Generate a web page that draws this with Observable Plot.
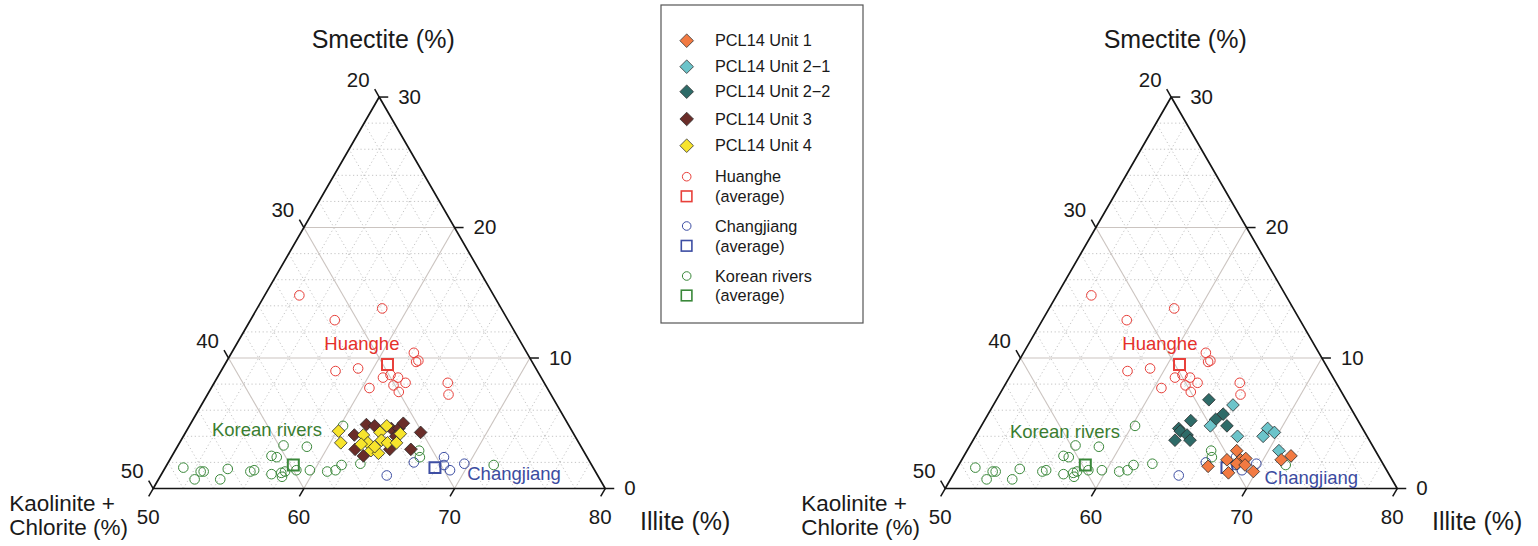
<!DOCTYPE html>
<html><head><meta charset="utf-8">
<script src="https://cdn.jsdelivr.net/npm/d3@7"></script>
<script src="https://cdn.jsdelivr.net/npm/@observablehq/plot@0.6"></script>
<style>
html,body{margin:0;padding:0;background:#fff;}
#wrap{position:relative;width:1538px;height:546px;overflow:hidden;font-family:"Liberation Sans",Arial,sans-serif;}
#left,#right{position:absolute;top:0;}
#left{left:0;} #right{left:792px;}
#legend{position:absolute;left:660px;top:4px;}
</style></head><body>
<div id="wrap"><div id="left"></div><div id="right"></div><svg id="legend" width="206" height="322"></svg></div>
<script>
// ---------- axis ticks (ternary, %) ----------
const smectiteTicks = [0, 10, 20, 30];
const illiteTicks = [50, 60, 70, 80];
const kcTicks = [20, 30, 40, 50];

// ---------- data: smectite (%) and illite (%); kaolinite+chlorite = 100 - S - I ----------
const huangheS = [14.8, 13.8, 12.9, 10.4, 9.7, 9.8, 9.0, 9.2, 8.5, 8.7, 8.5, 8.1, 7.9, 7.7, 7.4, 8.1, 7.2];
const huangheI = [52.3, 58.3, 55.6, 62.1, 62.6, 62.7, 57.6, 59.0, 61.0, 61.4, 62.0, 62.7, 62.0, 60.5, 62.6, 65.5, 66.0];
const huangheAvg = {S: 9.5, I: 60.8};

const changjiangS = [1.0, 2.0, 2.4, 1.8, 1.4, 1.9];
const changjiangI = [65.0, 66.3, 68.1, 68.4, 69.0, 69.7];
const changjiangAvg = {S: 1.6, I: 67.9};

const koreanS = [1.6, 0.7, 1.3, 1.3, 0.7, 1.5, 1.3, 1.4, 2.5, 2.4, 3.3, 1.1, 1.2, 0.9, 1.3, 1.4, 3.2, 1.4, 1.3, 1.4, 1.8, 4.8, 1.9, 2.9, 2.4, 1.8];
const koreanI = [51.2, 52.4, 52.5, 52.7, 54.1, 54.2, 55.8, 56.0, 56.6, 57.0, 57.0, 57.3, 57.9, 58.1, 58.1, 58.8, 58.6, 59.7, 60.9, 61.4, 61.6, 60.2, 62.8, 66.2, 66.5, 71.7];
const koreanAvg = {S: 1.8, I: 58.4};

const unit1S = [2.9, 2.2, 2.3, 1.9, 2.2, 1.2, 1.7, 1.3, 2.2, 2.5, 1.8];
const unit1I = [67.9, 68.5, 68.8, 68.4, 67.6, 68.2, 66.6, 69.8, 71.2, 71.7, 69.0];
const unit21S = [6.4, 4.8, 4.0, 4.6, 4.3, 4.0, 2.9];
const unit21I = [65.9, 65.2, 67.4, 69.1, 69.7, 69.1, 70.7];
const unit22S = [6.8, 5.2, 5.7, 5.3, 4.8, 4.6, 4.4, 4.1, 3.7, 3.7];
const unit22I = [64.1, 63.7, 65.6, 65.3, 66.3, 63.2, 63.4, 64.0, 63.4, 64.4];
const unit3S = [4.9, 4.8, 4.6, 4.6, 5.0, 4.1, 4.3, 3.0, 2.5, 3.0, 3.0, 4.0];
const unit3I = [61.7, 62.3, 63.5, 64.0, 64.1, 61.3, 65.6, 61.9, 62.7, 64.2, 65.6, 64.1];
const unit4S = [4.4, 3.5, 4.1, 4.3, 4.8, 4.2, 3.5, 3.4, 3.7, 3.5, 3.5, 2.9, 2.7, 3.2];
const unit4I = [60.1, 60.7, 61.9, 62.9, 63.1, 64.3, 62.5, 62.1, 63.3, 63.8, 64.4, 63.0, 63.6, 63.1];

// ---------- legend / colours ----------
const unitNames = ["PCL14 Unit 1", "PCL14 Unit 2\u22121", "PCL14 Unit 2\u22122", "PCL14 Unit 3", "PCL14 Unit 4"];
const unitColors = ["#F27A42", "#6CC4CA", "#2E6B68", "#6A2D29", "#F7E42C"];
const riverNames = ["Huanghe", "Changjiang", "Korean rivers"];
const riverColors = ["#E8403A", "#3D4EA3", "#3A883A"];
const riverTextColors = ["#E5302A", "#3B4BA0", "#3A7D30"];

// river label positions (S, I) per panel
const leftRiverLabelS = [11.1, 1.1, 4.5];
const leftRiverLabelI = [58.3, 73.4, 55.3];
const rightRiverLabelS = [11.1, 0.8, 4.3];
const rightRiverLabelI = [58.7, 73.9, 55.8];

// ---------- ternary projection ----------
const SQ = Math.sqrt(3) / 2;
const T = (s, i) => ({x: i - 50 + s / 2, y: s * SQ});
const pts = (S, I) => S.map((s, k) => T(s, I[k]));

const W = 746, H = 546;
const PXU = 15.067, X0 = 152.7, YB = 488;
const xDomain = [-X0 / PXU, (W - X0) / PXU];
const yDomain = [-(H - YB) / PXU, YB / PXU];

function seg(a, b) { return {x1: a.x, y1: a.y, x2: b.x, y2: b.y}; }
const segS = s => seg(T(s, 50), T(s, 80 - s));
const segI = i => seg(T(0, i), T(80 - i, i));
const segK = k => seg(T(0, 100 - k), T(50 - k, 50));

const minorOff = d3.range(2, 30, 2).filter(v => v % 10 !== 0);
const minor = [...minorOff.map(v => segS(v)), ...minorOff.map(v => segI(50 + v)), ...minorOff.map(v => segK(20 + v))];
const major = [segS(10), segS(20), segI(60), segI(70), segK(30), segK(40)];
const outline = [T(0, 50), T(0, 80), T(30, 50), T(0, 50)];

const TL = 0.6;
const ticks = [
  ...smectiteTicks.map(s => { const p = T(s, 80 - s); return {x1: p.x, y1: p.y, x2: p.x + TL, y2: p.y}; }),
  ...illiteTicks.map(i => { const p = T(0, i); return {x1: p.x, y1: p.y, x2: p.x - TL * 0.5, y2: p.y - TL * SQ}; }),
  ...kcTicks.map(k => { const p = T(50 - k, 50); return {x1: p.x, y1: p.y, x2: p.x - TL * 0.5, y2: p.y + TL * SQ}; })
];
const sLab = smectiteTicks.map(s => ({...T(s, 80 - s), t: String(s)}));
const iLab = illiteTicks.map(i => ({...T(0, i), t: String(i)}));
const kLab = kcTicks.map(k => ({...T(50 - k, 50), t: String(k)}));

const rivers = [
  {S: huangheS, I: huangheI, avg: huangheAvg},
  {S: changjiangS, I: changjiangI, avg: changjiangAvg},
  {S: koreanS, I: koreanI, avg: koreanAvg}
];

function panel(units, labS, labI) {
  const marks = [
    Plot.link(minor, {x1: "x1", y1: "y1", x2: "x2", y2: "y2", stroke: "#bdbdbd", strokeWidth: 0.9, strokeDasharray: "1.2,2.6"}),
    Plot.link(major, {x1: "x1", y1: "y1", x2: "x2", y2: "y2", stroke: "#cbc4c0", strokeWidth: 1.1}),
    Plot.line(outline, {x: "x", y: "y", stroke: "#151515", strokeWidth: 1.7}),
    Plot.link(ticks, {x1: "x1", y1: "y1", x2: "x2", y2: "y2", stroke: "#151515", strokeWidth: 1.5}),
    Plot.text(sLab, {x: "x", y: "y", text: "t", textAnchor: "start", dx: 19, dy: 0, fontSize: 20.5, fill: "#1a1a1a"}),
    Plot.text(iLab, {x: "x", y: "y", text: "t", dx: -5, dy: 29, fontSize: 20.5, fill: "#1a1a1a"}),
    Plot.text(kLab, {x: "x", y: "y", text: "t", dx: -21, dy: -17, fontSize: 20.5, fill: "#1a1a1a"}),
    Plot.text([T(30, 50)], {x: "x", y: "y", text: () => "Smectite (%)", dx: 4, dy: -57, fontSize: 25, fill: "#1a1a1a"}),
    Plot.text([T(0, 80)], {x: "x", y: "y", text: () => "Illite (%)", dx: 80, dy: 33, fontSize: 25, fill: "#1a1a1a"}),
    Plot.text([T(0, 50)], {x: "x", y: "y", text: () => "Kaolinite +\nChlorite (%)", textAnchor: "start", dx: -144, dy: 27, lineHeight: 1.08, fontSize: 22.5, fill: "#1a1a1a"})
  ];
  rivers.forEach((r, k) => {
    marks.push(Plot.dot(pts(r.S, r.I), {x: "x", y: "y", r: 4.8, stroke: riverColors[k], strokeWidth: 1, fill: "none"}));
  });
  rivers.forEach((r, k) => {
    marks.push(Plot.dot([T(r.avg.S, r.avg.I)], {x: "x", y: "y", symbol: "square", r: 6.2, stroke: riverColors[k], strokeWidth: 2, fill: "none"}));
  });
  units.forEach(u => {
    marks.push(Plot.dot(pts(u.S, u.I), {x: "x", y: "y", symbol: "diamond2", r: 5.7, fill: unitColors[u.c], stroke: "#2a2a2a", strokeWidth: 0.8}));
  });
  marks.push(Plot.text(riverNames.map((n, k) => ({...T(labS[k], labI[k]), n, c: riverTextColors[k]})),
    {x: "x", y: "y", text: "n", fill: "c", fontSize: 18.5}));
  return Plot.plot({
    width: W, height: H, margin: 0,
    x: {domain: xDomain, axis: null},
    y: {domain: yDomain, axis: null},
    color: {type: "identity"},
    style: {fontFamily: "'Liberation Sans', Arial, sans-serif", background: "transparent", overflow: "visible"},
    marks
  });
}

document.getElementById("left").appendChild(panel(
  [{S: unit3S, I: unit3I, c: 3}, {S: unit4S, I: unit4I, c: 4}], leftRiverLabelS, leftRiverLabelI));
document.getElementById("right").appendChild(panel(
  [{S: unit22S, I: unit22I, c: 2}, {S: unit21S, I: unit21I, c: 1}, {S: unit1S, I: unit1I, c: 0}], rightRiverLabelS, rightRiverLabelI));

// ---------- legend ----------
const lg = d3.select("#legend");
lg.append("rect").attr("x", 1).attr("y", 1).attr("width", 202).attr("height", 318)
  .attr("fill", "white").attr("stroke", "#555").attr("stroke-width", 1.2);
const unitRowY = [36.7, 62.7, 87.7, 115, 141.7];
unitNames.forEach((n, k) => {
  const y = unitRowY[k];
  lg.append("path").attr("d", `M26.7,${y - 6.8}L33.5,${y}L26.7,${y + 6.8}L19.9,${y}Z`)
    .attr("fill", unitColors[k]).attr("stroke", "#333").attr("stroke-width", 0.8);
  lg.append("text").attr("x", 55).attr("y", y).attr("dy", "0.35em").attr("font-size", 16.3).attr("fill", "#1a1a1a").text(n);
});
const riverRowY = [[172.7, 192.3], [222, 241.8], [272, 291.5]];
riverNames.forEach((n, k) => {
  const [y1, y2] = riverRowY[k];
  lg.append("circle").attr("cx", 26.7).attr("cy", y1).attr("r", 4.3).attr("fill", "none").attr("stroke", riverColors[k]).attr("stroke-width", 1);
  lg.append("rect").attr("x", 21.3).attr("y", y2 - 5.3).attr("width", 10.6).attr("height", 10.6).attr("fill", "none").attr("stroke", riverColors[k]).attr("stroke-width", 1.6);
  lg.append("text").attr("x", 55).attr("y", y1).attr("dy", "0.35em").attr("font-size", 16.3).attr("fill", "#1a1a1a").text(n);
  lg.append("text").attr("x", 55).attr("y", y2).attr("dy", "0.35em").attr("font-size", 16.3).attr("fill", "#1a1a1a").text("(average)");
});
</script>
</body></html>
